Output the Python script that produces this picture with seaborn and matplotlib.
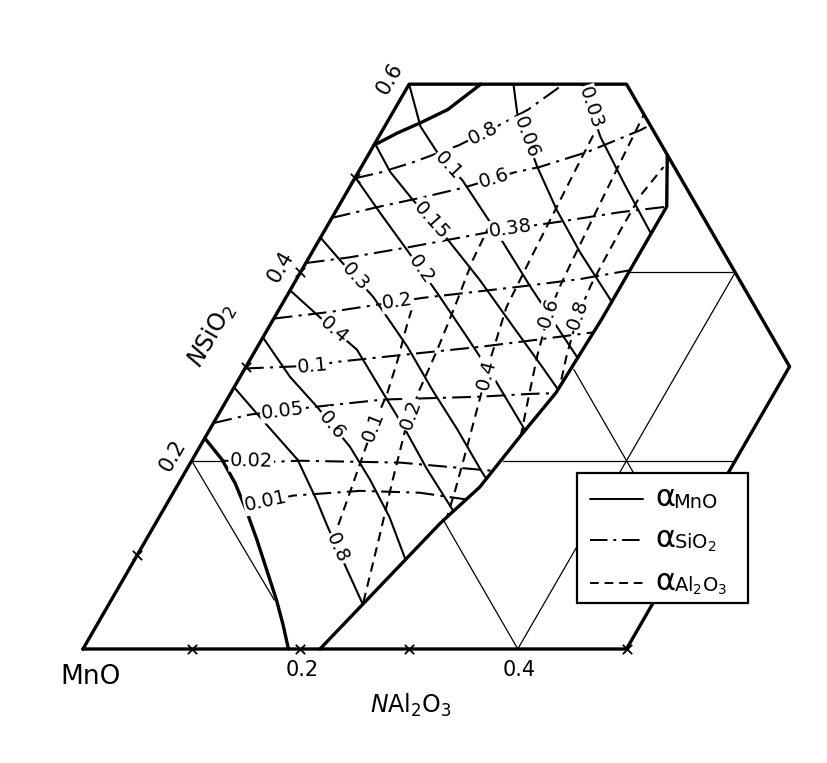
import numpy as np
import matplotlib
matplotlib.use("Agg")
import matplotlib.pyplot as plt
import seaborn as sns
from matplotlib.patches import Polygon, Rectangle
from matplotlib.lines import Line2D

sns.set_theme(style="white")
plt.rcParams["font.family"] = ["DejaVu Sans"]
plt.rcParams["mathtext.fontset"] = "dejavusans"
plt.rcParams["text.color"] = "black"

SQ3 = np.sqrt(3) / 2

# All compositions are (N_Al2O3, N_SiO2) mole fractions; N_MnO = 1 - both.
frame_al = [0.0, 0.5, 0.5, 0.2, 0.0, 0.0]
frame_si = [0.0, 0.0, 0.3, 0.6, 0.6, 0.0]

# liquid boundary: MnO saturation
mno_sat_al = [0.000, 0.0275, 0.052, 0.076, 0.102, 0.127, 0.152, 0.171, 0.189]
mno_sat_si = [0.224, 0.201, 0.176, 0.148, 0.116, 0.084, 0.052, 0.026, 0.000]

# liquid boundary: SiO2 saturation
sio2_sat_al = [0.000, 0.015, 0.031, 0.049, 0.066]
sio2_sat_si = [0.535, 0.548, 0.559, 0.573, 0.600]

# liquid boundary: alumina-rich side
al_side_al = [0.218, 0.262, 0.279, 0.289, 0.299, 0.302, 0.302, 0.275]
al_side_si = [0.000, 0.134, 0.172, 0.225, 0.272, 0.350, 0.470, 0.525]

# iso-activity curves of MnO (solid)
a_mno = {
    "0.03": ([0.160, 0.204, 0.252, 0.306], [0.600, 0.544, 0.493, 0.437]),
    "0.06": ([0.096, 0.115, 0.162, 0.203, 0.247, 0.305], [0.600, 0.569, 0.512, 0.466, 0.421, 0.366]),
    "0.1": ([0.000, 0.033, 0.067, 0.100, 0.160, 0.219, 0.305], [0.600, 0.555, 0.523, 0.498, 0.442, 0.385, 0.305]),
    "0.15": ([0.002, 0.029, 0.065, 0.118, 0.169, 0.225, 0.270, 0.311], [0.535, 0.507, 0.477, 0.435, 0.392, 0.342, 0.302, 0.265]),
    "0.2": ([0.000, 0.042, 0.086, 0.137, 0.188, 0.236, 0.296], [0.501, 0.463, 0.424, 0.378, 0.331, 0.286, 0.227]),
    "0.3": ([0.000, 0.030, 0.080, 0.138, 0.184, 0.228, 0.273, 0.290], [0.437, 0.413, 0.374, 0.321, 0.275, 0.233, 0.188, 0.172]),
    "0.4": ([0.000, 0.051, 0.093, 0.140, 0.177, 0.220, 0.268], [0.381, 0.346, 0.318, 0.272, 0.236, 0.192, 0.146]),
    "0.6": ([0.000, 0.046, 0.087, 0.138, 0.174, 0.212, 0.250], [0.331, 0.289, 0.257, 0.215, 0.180, 0.140, 0.094]),
    "0.8": ([0.000, 0.040, 0.097, 0.136, 0.160, 0.201, 0.235], [0.278, 0.246, 0.201, 0.158, 0.130, 0.084, 0.046]),
}
# iso-activity curves of SiO2 (dash-dot)
a_sio2 = {
    "0.01": ([0.073, 0.112, 0.171, 0.227, 0.285], [0.152, 0.163, 0.168, 0.166, 0.157]),
    "0.02": ([0.028, 0.079, 0.099, 0.193, 0.285], [0.200, 0.199, 0.200, 0.198, 0.189]),
    "0.05": ([0.000, 0.029, 0.083, 0.144, 0.231, 0.276, 0.305], [0.240, 0.249, 0.257, 0.265, 0.268, 0.271, 0.272]),
    "0.1": ([0.000, 0.062, 0.081, 0.150, 0.205, 0.250, 0.305], [0.298, 0.301, 0.305, 0.314, 0.321, 0.328, 0.337]),
    "0.2": ([0.000, 0.048, 0.084, 0.126, 0.210, 0.261, 0.305], [0.351, 0.358, 0.365, 0.373, 0.385, 0.393, 0.403]),
    "0.38": ([0.000, 0.037, 0.087, 0.120, 0.157, 0.212, 0.262, 0.303], [0.410, 0.416, 0.427, 0.435, 0.444, 0.454, 0.464, 0.470]),
    "0.6": ([0.000, 0.038, 0.070, 0.105, 0.143, 0.164, 0.200, 0.237, 0.245], [0.458, 0.470, 0.479, 0.490, 0.506, 0.512, 0.528, 0.551, 0.558]),
    "0.8": ([0.000, 0.020, 0.045, 0.078, 0.103, 0.123, 0.142], [0.500, 0.506, 0.517, 0.535, 0.555, 0.573, 0.600]),
}
# iso-activity curves of Al2O3 (dashed)
a_al2o3 = {
    "0.1": ([0.172, 0.164, 0.156, 0.149, 0.144, 0.136, 0.126, 0.121], [0.116, 0.158, 0.199, 0.235, 0.272, 0.307, 0.344, 0.365]),
    "0.2": ([0.233, 0.214, 0.195, 0.180, 0.172, 0.167, 0.160, 0.152, 0.149], [0.050, 0.116, 0.180, 0.233, 0.275, 0.318, 0.365, 0.413, 0.450]),
    "0.4": ([0.266, 0.258, 0.247, 0.234, 0.221, 0.208, 0.204, 0.201, 0.198, 0.196], [0.135, 0.169, 0.211, 0.259, 0.307, 0.363, 0.421, 0.470, 0.519, 0.555]),
    "0.6": ([0.290, 0.277, 0.262, 0.250, 0.246, 0.244, 0.240, 0.236, 0.232], [0.225, 0.265, 0.312, 0.357, 0.387, 0.410, 0.461, 0.514, 0.569]),
    "0.8": ([0.302, 0.289, 0.278, 0.274, 0.273, 0.272, 0.272, 0.278], [0.270, 0.312, 0.355, 0.387, 0.410, 0.445, 0.482, 0.512]),
}

# where each curve carries its value label
lab_mno_si = {"0.03": 0.575, "0.06": 0.544, "0.1": 0.514, "0.15": 0.455, "0.2": 0.403,
              "0.3": 0.395, "0.4": 0.339, "0.6": 0.238, "0.8": 0.107}
lab_sio2_al = {"0.01": 0.090, "0.02": 0.055, "0.05": 0.057, "0.1": 0.061, "0.2": 0.105,
               "0.38": 0.170, "0.6": 0.128, "0.8": 0.094}
lab_al2o3_si = {"0.1": 0.236, "0.2": 0.249, "0.4": 0.291, "0.6": 0.357, "0.8": 0.355}

# thin composition grid segments
grid_lines = [
    ([0.000, 0.150], [0.200, 0.052]),   # N_MnO = 0.8
    ([0.000, 0.028], [0.200, 0.200]),   # N_SiO2 = 0.2 (left piece)
    ([0.286, 0.500], [0.200, 0.200]),   # N_SiO2 = 0.2
    ([0.300, 0.400], [0.400, 0.400]),   # N_SiO2 = 0.4
    ([0.400, 0.400], [0.000, 0.400]),   # N_Al2O3 = 0.4
    ([0.303, 0.500], [0.297, 0.100]),   # N_MnO = 0.4
    ([0.262, 0.400], [0.138, 0.000]),   # N_MnO = 0.6
]

tick_bottom_al = [0.1, 0.2, 0.3, 0.5]
tick_left_si = [0.1, 0.3, 0.4, 0.5]
bottom_labels = [0.2, 0.4]
left_labels = [0.2, 0.4, 0.6]

DASHDOT = (0, (9, 3, 1.5, 3))
DASHED = (0, (4.5, 3))


def tern(al, si):
    al = np.asarray(al, float)
    si = np.asarray(si, float)
    return al + si / 2, si * SQ3


fig = plt.figure(figsize=(8.27, 7.63), dpi=100)
ax = fig.add_axes([0, 0, 1, 1])


def draw(al, si, lw, ls="-", zorder=2, clip=None):
    x, y = tern(al, si)
    sns.lineplot(x=x, y=y, sort=False, estimator=None, color="black",
                 linewidth=lw, ax=ax, legend=False)
    line = ax.lines[-1]
    line.set_linestyle(ls)
    line.set_zorder(zorder)
    line.set_solid_capstyle("round")
    line.set_solid_joinstyle("round")
    if clip is not None:
        line.set_clip_path(clip)
    return line


def label_on(al, si, value, by, text, size=14):
    al = np.asarray(al, float)
    si = np.asarray(si, float)

    def at(v):
        if by == "si":
            o = np.argsort(si)
            return np.interp(v, si[o], al[o]), v
        o = np.argsort(al)
        return v, np.interp(v, al[o], si[o])

    a, s = at(value)
    a1, s1 = at(value - 0.01)
    a2, s2 = at(value + 0.01)
    x, y = tern(a, s)
    x1, y1 = tern(a1, s1)
    x2, y2 = tern(a2, s2)
    ang = np.degrees(np.arctan2(y2 - y1, x2 - x1))
    if ang > 90:
        ang -= 180
    if ang < -90:
        ang += 180
    ax.text(x, y, text, rotation=ang, rotation_mode="anchor", ha="center", va="center",
            fontsize=size, zorder=5, color="black",
            bbox=dict(boxstyle="square,pad=0.06", fc="white", ec="none"))


# clip region = liquid field
clip_al = [0.0, 0.0, 0.2] + al_side_al[::-1] + mno_sat_al[::-1]
clip_si = [mno_sat_si[0], 0.6, 0.6] + al_side_si[::-1] + mno_sat_si[::-1]
cx, cy = tern(clip_al, clip_si)
clip = Polygon(np.column_stack([cx, cy]), closed=True, transform=ax.transData)

for al, si in grid_lines:
    draw(al, si, 0.9, zorder=1)

for key, (al, si) in a_mno.items():
    draw(al, si, 1.5, "-", 2, clip)
    label_on(al, si, lab_mno_si[key], "si", key)
for key, (al, si) in a_sio2.items():
    draw(al, si, 1.5, DASHDOT, 2, clip)
    label_on(al, si, lab_sio2_al[key], "al", key)
for key, (al, si) in a_al2o3.items():
    draw(al, si, 1.5, DASHED, 2, clip)
    label_on(al, si, lab_al2o3_si[key], "si", key)

draw(mno_sat_al, mno_sat_si, 2.4, zorder=4)
draw(sio2_sat_al, sio2_sat_si, 2.4, zorder=4)
draw(al_side_al, al_side_si, 2.4, zorder=4)
draw(frame_al, frame_si, 2.4, zorder=4)

# edge tick marks
bx, by_ = tern(tick_bottom_al, np.zeros(len(tick_bottom_al)))
lx, ly = tern(np.zeros(len(tick_left_si)), tick_left_si)
sns.scatterplot(x=np.r_[bx, lx], y=np.r_[by_, ly], marker="x", s=45, color="black",
                linewidth=1.3, ax=ax, legend=False, zorder=4)

# edge value labels
for v in bottom_labels:
    x, y = tern(v, 0.0)
    ax.annotate(f"{v:.1f}", (x, y), xytext=(1, -15), textcoords="offset points",
                ha="center", va="center", fontsize=15, color="black")
for v in left_labels:
    x, y = tern(0.0, v)
    ax.annotate(f"{v:.1f}", (x, y), xytext=(-14, 4), textcoords="offset points",
                ha="center", va="center", fontsize=15, rotation=60, color="black")

ax.text(0.110, 0.113, "MnO", transform=ax.transAxes, ha="center", va="center", fontsize=19)
ax.text(0.497, 0.076, r"$\mathit{N}$Al$_2$O$_3$", transform=ax.transAxes,
        ha="center", va="center", fontsize=17)
ax.text(0.256, 0.561, r"$\mathit{N}$SiO$_2$", transform=ax.transAxes,
        ha="center", va="center", fontsize=17, rotation=60)

# legend box
ax.add_patch(Rectangle((0.6977, 0.2097), 0.2068, 0.1704, transform=ax.transAxes,
                       fc="white", ec="black", lw=1.6, zorder=6))
legend_rows = [("-", 0.346, "MnO"), (DASHDOT, 0.2923, "SiO$_2$"), (DASHED, 0.2359, "Al$_2$O$_3$")]
for ls, yy, name in legend_rows:
    ax.add_line(Line2D([0.7134, 0.7775], [yy, yy], transform=ax.transAxes,
                       color="black", lw=1.4, linestyle=ls, zorder=7))
    ax.text(0.7930, yy + 0.002, "α", transform=ax.transAxes, ha="left", va="center",
            fontsize=22, zorder=7)
    ax.text(0.8145, yy - 0.004, name, transform=ax.transAxes, ha="left", va="center",
            fontsize=14, zorder=7)

ax.set_xlim(-0.07636, 0.68445)
ax.set_ylim(-0.10488, 0.59706)
ax.set_aspect("auto")
ax.axis("off")

fig.savefig("out.png", dpi=100, facecolor="white")
